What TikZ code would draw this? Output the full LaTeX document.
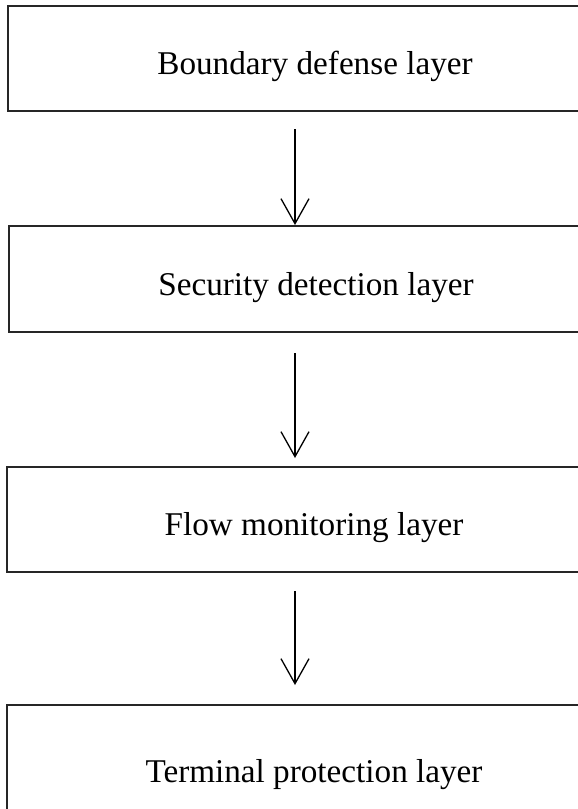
\documentclass[tikz,border=0pt]{standalone}
\usepackage{fontspec}
\setmainfont{Liberation Serif}
\usetikzlibrary{arrows.meta}
\tikzset{
	layerbox/.style={draw=black!85, line width=1.1pt, inner sep=0pt, minimum width=307pt,
		font=\fontsize{16.6}{20}\selectfont, text height=1.85em, text depth=0.22em},
	flow/.style={-{Straight Barb[length=12.5pt,width=14pt]}, line width=0.65pt}
}
\begin{document}
\begin{tikzpicture}[x=0.5pt,y=-0.5pt]
		\path[use as bounding box, clip] (0,0) rectangle (578,809);
		\fill[white] (0,0) rectangle (578,809);
		\node[layerbox, minimum height=52.5pt] (b1) at (315,58.5) {Boundary defense layer};
		\node[layerbox, minimum height=53pt] (b2) at (316,279) {Security detection layer};
		\node[layerbox, minimum height=52.5pt] (b3) at (314,519.5) {Flow monitoring layer};
		\node[layerbox, minimum height=61pt] (b4) at (314,766) {Terminal protection layer};
		\coordinate (s1) at (295,129);
		\coordinate (e1) at (295,225);
		\coordinate (s2) at (295,353);
		\coordinate (e2) at (295,458);
		\coordinate (s3) at (295,591);
		\coordinate (e3) at (295,685);
		\foreach \i in {1,2,3} \draw[flow] (s\i) -- (e\i);
	\end{tikzpicture}
\end{document}
